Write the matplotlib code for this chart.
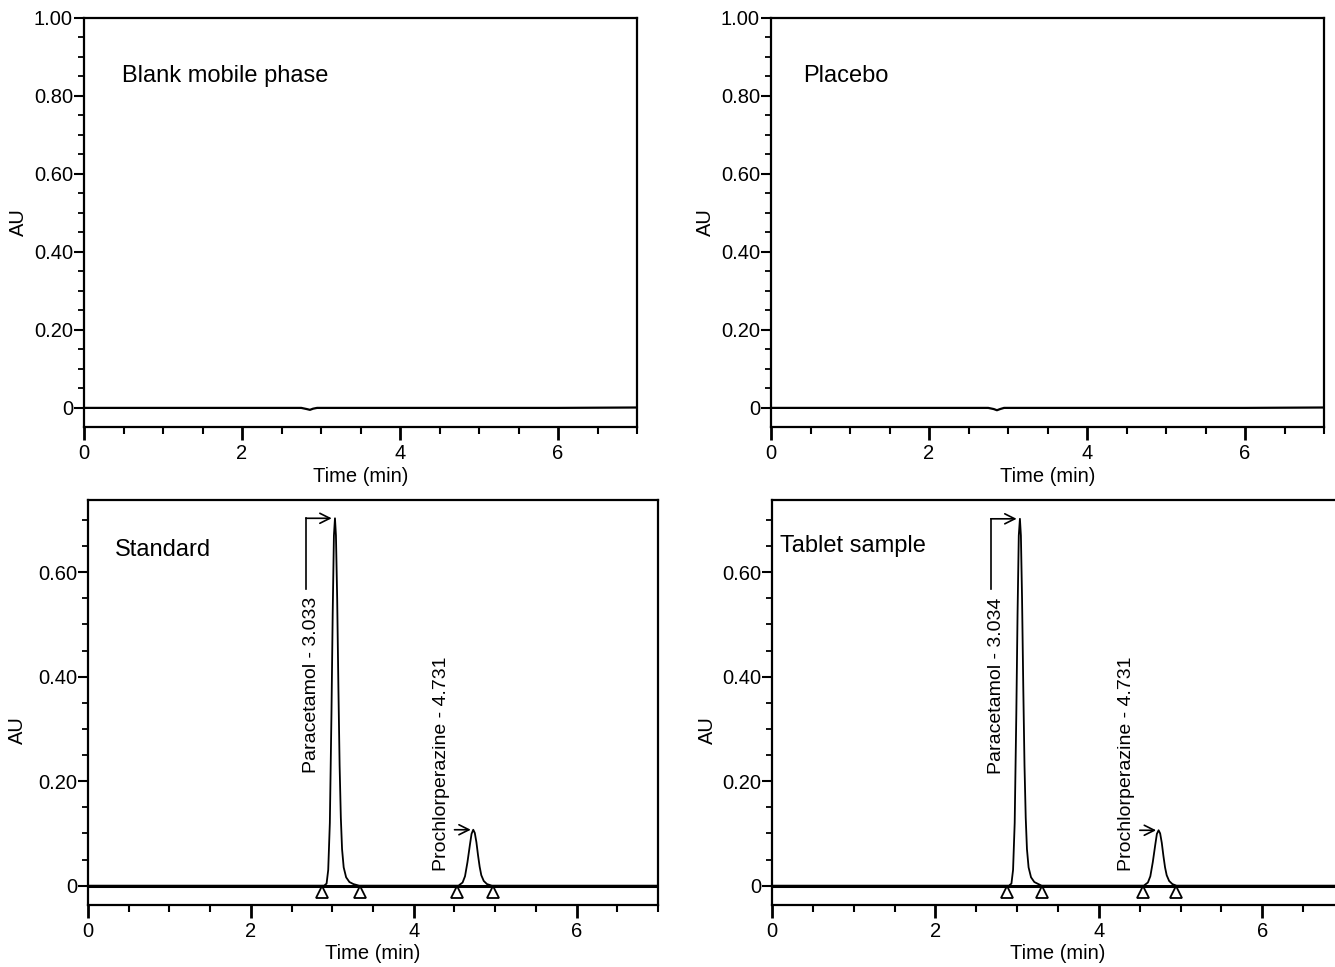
import matplotlib
matplotlib.use("Agg")
import matplotlib.pyplot as plt
from matplotlib.ticker import MultipleLocator

plt.rcParams['font.family'] = ['Liberation Sans', 'DejaVu Sans']

# ---------------- data ----------------
panel_titles = ["Blank mobile phase", "Placebo", "Standard", "Tablet sample"]

# baseline traces of the blank and placebo runs (time min, AU)
blank_t = [0.0, 1.0, 2.0, 2.75, 2.82, 2.86, 2.90, 2.95, 4.0, 5.0, 6.0, 7.0]
blank_au = [0.0, 0.0, 0.0, 0.0, -0.003, -0.005, -0.002, 0.0, 0.0, 0.0, 0.0, 0.001]
placebo_t = [0.0, 1.0, 2.0, 2.75, 2.82, 2.86, 2.90, 2.95, 4.0, 5.0, 6.0, 7.0]
placebo_au = [0.0, 0.0, 0.0, 0.0, -0.003, -0.006, -0.003, 0.0, 0.0, 0.0, 0.0, 0.001]

# standard chromatogram
std_t = [0.0, 2.90, 2.93, 2.95, 2.97, 2.99, 3.005, 3.02, 3.033, 3.045, 3.06, 3.075,
         3.09, 3.105, 3.12, 3.14, 3.17, 3.21, 3.26, 3.33, 4.55, 4.60, 4.63, 4.66,
         4.69, 4.71, 4.731, 4.75, 4.77, 4.79, 4.81, 4.83, 4.86, 4.90, 4.96, 7.0]
std_au = [0.0, 0.0, 0.004, 0.03, 0.12, 0.33, 0.52, 0.67, 0.703, 0.67, 0.55, 0.38,
          0.23, 0.13, 0.07, 0.035, 0.016, 0.007, 0.003, 0.0, 0.0, 0.006, 0.018, 0.045,
          0.078, 0.099, 0.107, 0.101, 0.083, 0.058, 0.036, 0.02, 0.009, 0.003, 0.0, 0.0]

# tablet sample chromatogram
tab_t = [0.0, 2.90, 2.93, 2.95, 2.97, 2.99, 3.005, 3.02, 3.034, 3.046, 3.06, 3.075,
         3.09, 3.105, 3.12, 3.14, 3.17, 3.21, 3.26, 3.30, 4.55, 4.60, 4.63, 4.66,
         4.69, 4.71, 4.731, 4.75, 4.77, 4.79, 4.81, 4.83, 4.86, 4.90, 4.95, 7.0]
tab_au = [0.0, 0.0, 0.004, 0.03, 0.12, 0.33, 0.52, 0.67, 0.702, 0.67, 0.55, 0.38,
          0.23, 0.13, 0.07, 0.035, 0.016, 0.007, 0.003, 0.0, 0.0, 0.006, 0.018, 0.045,
          0.078, 0.099, 0.106, 0.100, 0.082, 0.057, 0.035, 0.02, 0.009, 0.003, 0.0, 0.0]

# integration markers (start/end of each peak)
std_marks = [2.87, 3.34, 4.53, 4.97]
tab_marks = [2.87, 3.30, 4.54, 4.95]

# peak labels
peak_names = ["Paracetamol", "Prochlorperazine"]
std_rt = [3.033, 4.731]
std_h = [0.703, 0.107]
tab_rt = [3.034, 4.731]
tab_h = [0.702, 0.106]

# ---------------- figure ----------------
W, H = 1335, 967
fig = plt.figure(figsize=(W / 100, H / 100), dpi=100)

def px_axes(l, t, r, b):
    return fig.add_axes([l / W, 1 - b / H, (r - l) / W, (b - t) / H])

ax_tl = px_axes(84, 18, 637, 427)
ax_tr = px_axes(771, 18, 1324, 427)
ax_bl = px_axes(88, 500, 658, 905)
ax_br = px_axes(772, 500, 1344, 905)

TICK_FS = 14.5
TITLE_FS = 17
ANN_FS = 14


def style(ax, ylim, yticks, ylabels, au_y=0.5, au_x=-0.12):
    ax.set_xlim(0, 7)
    ax.set_ylim(*ylim)
    ax.set_xticks([0, 2, 4, 6])
    ax.set_xticklabels(["0", "2", "4", "6"], fontsize=TICK_FS)
    ax.xaxis.set_minor_locator(MultipleLocator(0.5))
    ax.set_yticks(yticks)
    ax.set_yticklabels(ylabels, fontsize=TICK_FS)
    ax.yaxis.set_minor_locator(MultipleLocator(0.05))
    for s in ax.spines.values():
        s.set_linewidth(1.6)
    ax.tick_params(axis='y', which='major', direction='out', length=7, width=1.5, pad=1)
    ax.tick_params(axis='y', which='minor', direction='out', length=4, width=1.3)
    ax.tick_params(axis='x', which='major', direction='out', length=9, width=2.0, pad=3)
    ax.tick_params(axis='x', which='minor', direction='out', length=5, width=1.5)
    ax.set_xlabel("Time (min)", fontsize=TICK_FS)
    ax.xaxis.set_label_coords(0.5, -0.12)
    ax.xaxis.label.set_va('center')
    ax.set_ylabel("AU", fontsize=TICK_FS)
    ax.yaxis.set_label_coords(au_x, au_y)
    ax.yaxis.label.set_va('center')


top_ticks = [0, 0.2, 0.4, 0.6, 0.8, 1.0]
top_labels = ["0", "0.20", "0.40", "0.60", "0.80", "1.00"]
bot_ticks = [0, 0.2, 0.4, 0.6]
bot_labels = ["0", "0.20", "0.40", "0.60"]

# top panels
for ax, t, a, title, tx in [(ax_tl, blank_t, blank_au, panel_titles[0], 0.48),
                            (ax_tr, placebo_t, placebo_au, panel_titles[1], 0.405)]:
    ax.plot(t, a, color='black', lw=1.6)
    style(ax, (-0.049, 1.0), top_ticks, top_labels, au_x=-0.119)
    ax.text(tx, 0.85, title, fontsize=TITLE_FS, ha='left', va='center')

# bottom panels
for ax, t, a, marks, rts, hs, title, tpos, au_x in [
        (ax_bl, std_t, std_au, std_marks, std_rt, std_h, panel_titles[2], (0.33, 0.642), -0.123),
        (ax_br, tab_t, tab_au, tab_marks, tab_rt, tab_h, panel_titles[3], (0.10, 0.650), -0.112)]:
    ax.axhline(0, color='black', lw=2.2, zorder=2)
    ax.plot(t, a, color='black', lw=1.3, zorder=3)
    ax.plot(marks, [-0.012] * len(marks), linestyle='none', marker='^', markersize=8,
            markerfacecolor='white', markeredgecolor='black', markeredgewidth=1.3, zorder=4)
    style(ax, (-0.037, 0.738), bot_ticks, bot_labels, au_y=0.432, au_x=au_x)
    ax.text(tpos[0], tpos[1], title, fontsize=TITLE_FS, ha='left', va='center')

    # Paracetamol label: text, vertical leader and arrow to apex
    lx = rts[0] - 0.35
    ax.text(lx + 0.06, 0.552, f"{peak_names[0]} - {rts[0]:.3f}", rotation=90,
            fontsize=ANN_FS, ha='center', va='top')
    ax.plot([lx, lx], [0.568, hs[0]], color='black', lw=1.2)
    ax.annotate("", xy=(rts[0] - 0.04, hs[0]), xytext=(lx - 0.006, hs[0]),
                arrowprops=dict(arrowstyle='->', lw=1.2, color='black',
                                shrinkA=0, shrinkB=0, mutation_scale=18))

    # Prochlorperazine label
    ax.text(rts[1] - 0.39, 0.028, f"{peak_names[1]} - {rts[1]:.3f}", rotation=90,
            fontsize=ANN_FS, ha='center', va='bottom')
    ax.annotate("", xy=(rts[1] - 0.03, hs[1]), xytext=(rts[1] - 0.23, hs[1]),
                arrowprops=dict(arrowstyle='->', lw=1.2, color='black',
                                shrinkA=0, shrinkB=0, mutation_scale=18))

fig.savefig("out.png", dpi=100)
